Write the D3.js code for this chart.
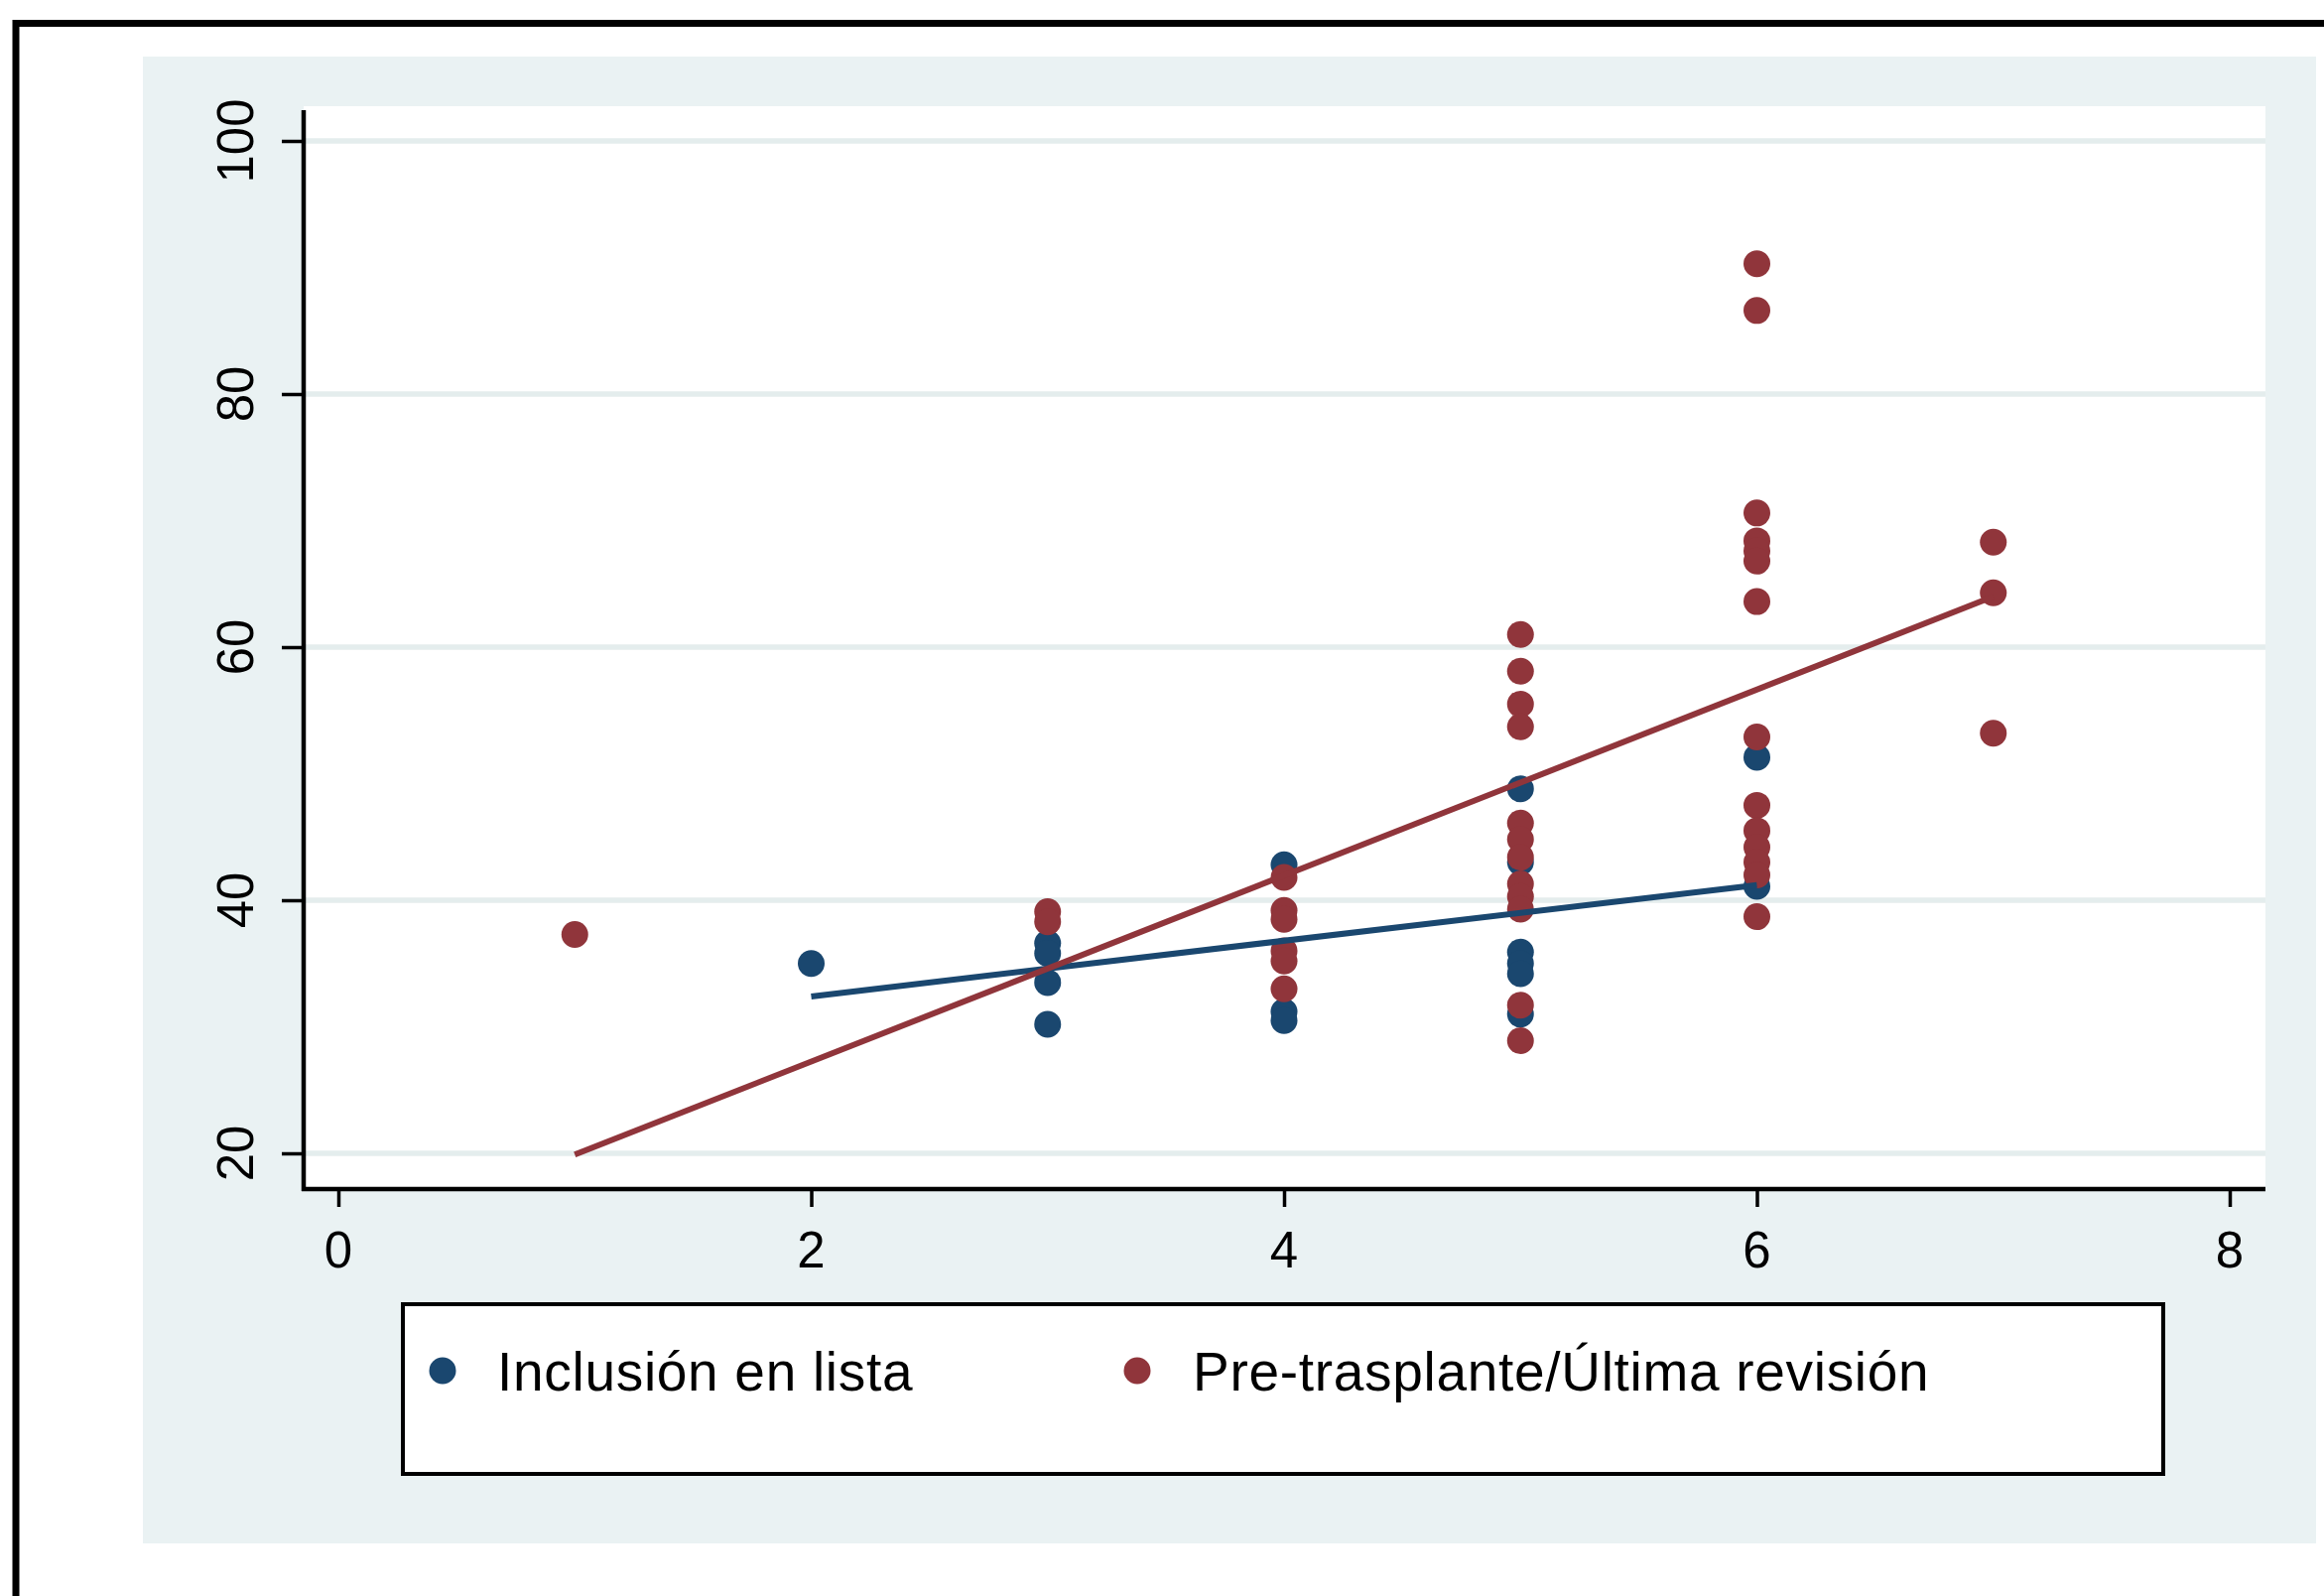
<!DOCTYPE html>
<html><head><meta charset="utf-8">
<script src="https://cdn.jsdelivr.net/npm/d3@7"></script>
<style>
body{margin:0;background:#fff}
svg{display:block}
text{font-family:"Liberation Sans",Arial,sans-serif;fill:#000}
</style>
</head><body>
<svg id="c" width="2342" height="1608"></svg>
<script>
// ---- data ----
const xTicks = [0, 2, 4, 6, 8];
const yTicks = [20, 40, 60, 80, 100];
const seriesNames = ["Inclusión en lista", "Pre-trasplante/Última revisión"];
const seriesColors = ["#1a476f", "#90353b"];

const blueX = [2, 3, 3, 3, 3, 4, 4, 4, 5, 5, 5, 5, 5, 5, 6, 6];
const blueY = [35.0, 36.6, 35.8, 33.5, 30.2, 42.8, 31.2, 30.5, 48.8, 43.0, 35.9, 35.0, 34.2, 31.0, 51.3, 41.1];

const redX = [1, 3, 3, 4, 4, 4, 4, 4, 4,
  5, 5, 5, 5, 5, 5, 5, 5, 5, 5, 5, 5,
  6, 6, 6, 6, 6, 6, 6, 6, 6, 6, 6, 6, 6, 6,
  7, 7, 7];
const redY = [37.3, 39.1, 38.3, 41.8, 39.2, 38.5, 36.0, 35.2, 33.0,
  61.0, 58.1, 55.5, 53.7, 46.1, 44.8, 43.4, 41.3, 40.3, 39.3, 31.7, 28.9,
  90.3, 86.6, 70.6, 68.4, 67.6, 66.8, 63.6, 52.9, 47.5, 45.5, 44.2, 43.0, 42.0, 38.7,
  68.3, 64.3, 53.2];

const fitBlueX = [2, 6], fitBlueY = [32.4, 41.2];
const fitRedX = [1, 7], fitRedY = [19.9, 64.0];

// ---- layout ----
const svg = d3.select("#c");
const plot = {left: 306, right: 2283, top: 107, bottom: 1198};
const x = d3.scaleLinear().domain([0, 8]).range([341, 2247]);
const y = d3.scaleLinear().domain([20, 100]).range([1162, 142]);

// outer frame
svg.append("path").attr("d", "M16,1608 V23.5 H2342")
  .attr("fill", "none").attr("stroke", "#000").attr("stroke-width", 7);

// graph region
svg.append("rect").attr("x", 144).attr("y", 57).attr("width", 2334 - 144).attr("height", 1555 - 57)
  .attr("fill", "#eaf2f3");

// plot region
svg.append("rect").attr("x", plot.left).attr("y", plot.top)
  .attr("width", plot.right - plot.left).attr("height", plot.bottom - plot.top)
  .attr("fill", "#fff");

// gridlines
svg.append("g").selectAll("line").data(yTicks).join("line")
  .attr("x1", plot.left).attr("x2", plot.right)
  .attr("y1", d => y(d)).attr("y2", d => y(d))
  .attr("stroke", "#e4eded").attr("stroke-width", 5.5);

// axes
const yAxis = svg.append("g").attr("transform", `translate(${plot.left},0)`)
  .call(d3.axisLeft(y).tickValues(yTicks).tickSize(22).tickSizeOuter(0).tickFormat(""));
yAxis.select(".domain").remove();
yAxis.selectAll(".tick line").attr("stroke", "#000").attr("stroke-width", 3.5);

const xAxis = svg.append("g").attr("transform", `translate(0,${plot.bottom})`)
  .call(d3.axisBottom(x).tickValues(xTicks).tickSize(18).tickSizeOuter(0).tickFormat(""));
xAxis.select(".domain").remove();
xAxis.selectAll(".tick line").attr("stroke", "#000").attr("stroke-width", 3.5);

svg.append("line").attr("x1", plot.left).attr("x2", plot.left)
  .attr("y1", plot.top + 4).attr("y2", plot.bottom + 2)
  .attr("stroke", "#000").attr("stroke-width", 4.5);
svg.append("line").attr("x1", plot.left - 2).attr("x2", plot.right)
  .attr("y1", plot.bottom).attr("y2", plot.bottom)
  .attr("stroke", "#000").attr("stroke-width", 4.5);

// tick labels
svg.append("g").selectAll("text").data(yTicks).join("text")
  .attr("transform", d => `translate(255,${y(d)}) rotate(-90)`)
  .attr("text-anchor", "middle").attr("font-size", 51)
  .text(d => d);
svg.append("g").selectAll("text").data(xTicks).join("text")
  .attr("x", d => x(d)).attr("y", 1277)
  .attr("text-anchor", "middle").attr("font-size", 51)
  .text(d => d);

// markers
const R = 13.5;
const blue = blueX.map((v, i) => ({x: v, y: blueY[i]}));
const red = redX.map((v, i) => ({x: v, y: redY[i]}));
svg.append("g").selectAll("circle").data(blue).join("circle")
  .attr("cx", d => x(d.x)).attr("cy", d => y(d.y)).attr("r", R)
  .attr("fill", seriesColors[0]);
svg.append("g").selectAll("circle").data(red).join("circle")
  .attr("cx", d => x(d.x)).attr("cy", d => y(d.y)).attr("r", R)
  .attr("fill", seriesColors[1]);

// fit lines
const line = d3.line().x(d => x(d[0])).y(d => y(d[1]));
svg.append("path").datum(fitBlueX.map((v, i) => [v, fitBlueY[i]]))
  .attr("d", line).attr("fill", "none").attr("stroke", seriesColors[0]).attr("stroke-width", 6);
svg.append("path").datum(fitRedX.map((v, i) => [v, fitRedY[i]]))
  .attr("d", line).attr("fill", "none").attr("stroke", seriesColors[1]).attr("stroke-width", 6);

// legend
svg.append("rect").attr("x", 406).attr("y", 1314).attr("width", 2180 - 406).attr("height", 1485 - 1314)
  .attr("fill", "#fff").attr("stroke", "#000").attr("stroke-width", 4);
const legX = [446, 1146], legTextX = [501, 1202];
const lg = svg.append("g").selectAll("g").data(seriesNames).join("g");
lg.append("circle").attr("cx", (d, i) => legX[i]).attr("cy", 1381).attr("r", R)
  .attr("fill", (d, i) => seriesColors[i]);
lg.append("text").attr("x", (d, i) => legTextX[i]).attr("y", 1401)
  .attr("font-size", 55).attr("letter-spacing", 0.7).text(d => d);
</script>
</body></html>
